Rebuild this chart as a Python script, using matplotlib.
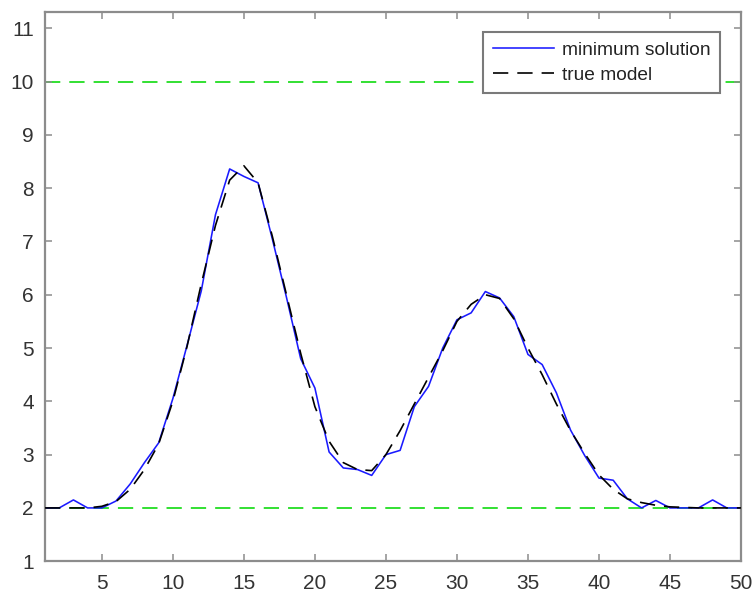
import numpy as np
import matplotlib
matplotlib.use("Agg")
import matplotlib.pyplot as plt

x = np.arange(1, 51)

# minimum solution (blue)
min_solution = [2.0, 2.0, 2.15, 2.0, 2.0, 2.13, 2.45, 2.85, 3.22, 4.05,
                5.05, 6.07, 7.5, 8.36, 8.22, 8.1, 7.05, 5.95, 4.8, 4.25,
                3.05, 2.75, 2.72, 2.61, 3.0, 3.08, 3.9, 4.28, 5.0, 5.53,
                5.66, 6.06, 5.94, 5.59, 4.88, 4.69, 4.16, 3.46, 2.98, 2.56,
                2.52, 2.17, 2.0, 2.14, 2.0, 2.0, 2.0, 2.15, 2.0, 2.0]

# true model (black dashed)
true_model = [2.0, 2.0, 2.0, 2.0, 2.03, 2.12, 2.35, 2.72, 3.2, 4.0,
              5.03, 6.2, 7.3, 8.15, 8.42, 8.1, 7.1, 6.0, 4.9, 3.9,
              3.25, 2.85, 2.72, 2.7, 3.0, 3.45, 3.95, 4.45, 4.95, 5.5,
              5.82, 6.0, 5.93, 5.55, 5.0, 4.5, 3.95, 3.45, 3.02, 2.62,
              2.35, 2.17, 2.1, 2.05, 2.02, 2.01, 2.0, 2.0, 2.0, 2.0]

lower_bound = 2
upper_bound = 10

plt.rcParams["font.family"] = ["Liberation Sans", "DejaVu Sans"]
plt.rcParams["lines.scale_dashes"] = False

fig = plt.figure(figsize=(7.55, 5.98), dpi=100)
ax = fig.add_axes([0.0596, 0.0615, 0.9219, 0.918])

dash = (11, 6.5)
ax.axhline(lower_bound, color="#22dd22", lw=1.3, dashes=dash, zorder=1)
ax.axhline(upper_bound, color="#22dd22", lw=1.3, dashes=dash, zorder=1)
ax.plot(x, min_solution, color="#1a1aff", lw=1.15, label="minimum solution", zorder=2)
ax.plot(x, true_model, color="black", lw=1.2, dashes=dash, label="true model", zorder=3)

ax.set_xlim(1, 50)
ax.set_ylim(1, 11.3)
ax.set_xticks(range(5, 51, 5))
ax.set_yticks(range(1, 12))

for s in ax.spines.values():
    s.set_color("#8c8c8c")
    s.set_linewidth(1.6)
ax.tick_params(direction="in", length=5, width=1.1, color="#8c8c8c",
               labelsize=15, labelcolor="#333333", top=True, right=True)
ax.tick_params(axis="x", pad=9)
ax.tick_params(axis="y", pad=8)

leg = ax.legend(loc="upper right", bbox_to_anchor=(0.9698, 0.9641),
                borderaxespad=0, fontsize=13.8, handlelength=3.2,
                handletextpad=0.4, labelspacing=0.38, borderpad=0.5,
                fancybox=False, framealpha=1, edgecolor="#7a7a7a")
leg.get_frame().set_linewidth(1.5)
for t in leg.get_texts():
    t.set_color("#222222")

plt.savefig("out.png", dpi=100)
plt.close()
